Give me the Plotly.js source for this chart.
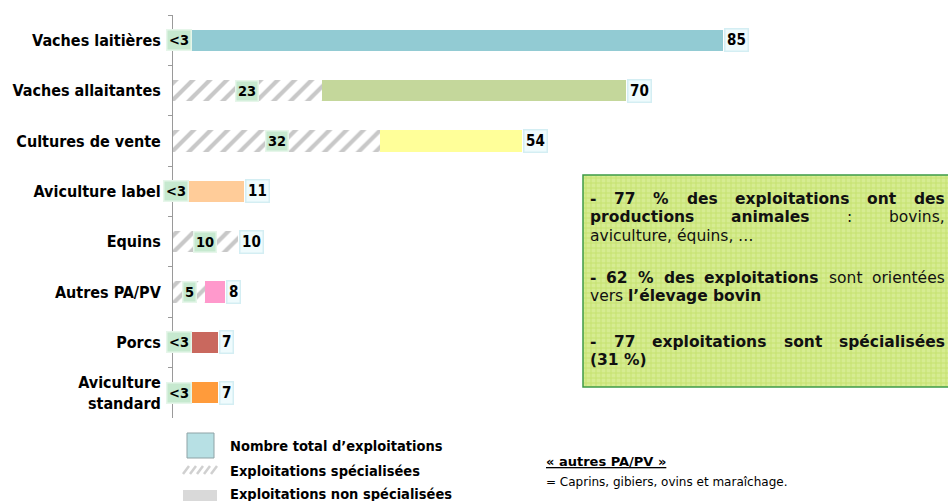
<!DOCTYPE html>
<html>
<head>
<meta charset="utf-8">
<script src="https://cdn.plot.ly/plotly-3.0.1.min.js"></script>
<style>html,body{margin:0;padding:0;background:#fff;}#chart{width:948px;height:501px;}</style>
</head>
<body>
<div id="chart"></div>
<script>
// ---- data ----
const categories = ['Vaches laitières','Vaches allaitantes','Cultures de vente','Aviculture label','Equins','Autres PA/PV','Porcs','Aviculture<br>standard'];
const totals = [85, 70, 54, 11, 10, 8, 7, 7];
const specialised = [2, 23, 32, 1, 10, 5, 2, 2];
const specLabels = ['&lt;3', '23', '32', '&lt;3', '10', '5', '&lt;3', '&lt;3'];
const totalLabels = ['85', '70', '54', '11', '10', '8', '7', '7'];
const barColors = ['#92cbd3', '#c4d79b', '#ffff99', '#ffcc99', '#ffffff', '#ff99cc', '#c9685e', '#ff9b3b'];

// ---- geometry ----
const W = 948, H = 501;
const M = {l: 173, r: 0, t: 15, b: 83};
const PW = W - M.l - M.r, PH = H - M.t - M.b;
const px2x = px => (px - M.l) / PW;
const py2y = py => (M.t + PH - py) / PH;
const FONT = 'DejaVu Sans';
const CFONT = 'DejaVu Sans Condensed, DejaVu Sans';

const remainder = totals.map((t, i) => t - specialised[i]);

const traces = [
  {
    type: 'bar', orientation: 'h', y: categories, x: specialised,
    marker: {color: '#ffffff', line: {width: 0},
      pattern: {shape: '/', fgcolor: '#c8c8c8', bgcolor: '#ffffff', size: 12, solidity: 0.35}},
    hoverinfo: 'skip', showlegend: false
  },
  {
    type: 'bar', orientation: 'h', y: categories, x: remainder,
    marker: {color: barColors, line: {width: 0}},
    hoverinfo: 'skip', showlegend: false
  }
];

const annotations = [];
categories.forEach((c, i) => {
  annotations.push({
    x: specialised[i] / 2, y: c, xref: 'x', yref: 'y', text: specLabels[i], showarrow: false,
    font: {family: CFONT, size: 14.5, color: '#000', weight: 'bold'},
    bgcolor: '#c6e9cf', bordercolor: '#e6f6ea', borderwidth: 1.5, borderpad: 1.5
  });
  annotations.push({
    x: totals[i], y: c, xref: 'x', yref: 'y', xanchor: 'left', xshift: 1, text: totalLabels[i], showarrow: false,
    font: {family: CFONT, size: 15, color: '#000', weight: 'bold'},
    bgcolor: '#effbfd', bordercolor: '#d4eef3', borderwidth: 1.5, borderpad: 1.5
  });
});

// ---- text box ----
const boxLines = [
  {y: 199, justify: true, segs: [['- 77 % des exploitations ont des', true]]},
  {y: 217, justify: true, segs: [['productions animales', true], [': bovins,', false]]},
  {y: 236, justify: false, segs: [['aviculture, équins, …', false]]},
  {y: 278, justify: true, segs: [['- 62 % des exploitations', true], ['sont orientées', false]]},
  {y: 296, justify: false, segs: [['vers', false], ['l’élevage bovin', true]]},
  {y: 342, justify: true, segs: [['- 77 exploitations sont spécialisées', true]]},
  {y: 360, justify: false, segs: [['(31 %)', true]]}
];
const BOX_X0 = 590, BOX_X1 = 945, BOX_FS = 15.5;
const cvs = document.createElement('canvas').getContext('2d');
function measure(t, b) { cvs.font = (b ? 'bold ' : '') + BOX_FS + 'px "' + FONT + '"'; return cvs.measureText(t).width; }
boxLines.forEach(line => {
  const words = [];
  line.segs.forEach(([t, b]) => t.split(' ').forEach(w => words.push({t: w, b: b, w: measure(w, b)})));
  const sum = words.reduce((a, w) => a + w.w, 0);
  const gap = line.justify && words.length > 1 ? (BOX_X1 - BOX_X0 - sum) / (words.length - 1) : measure(' ', false);
  let x = BOX_X0;
  words.forEach(w => {
    annotations.push({
      xref: 'paper', yref: 'paper', x: px2x(x), y: py2y(line.y), xanchor: 'left', yanchor: 'middle',
      text: w.t, showarrow: false, borderpad: 0, borderwidth: 0,
      font: {family: FONT, size: BOX_FS, color: '#111', weight: w.b ? 'bold' : 'normal'}
    });
    x += w.w + gap;
  });
});

// ---- legend texts ----
const legendTexts = [
  {x: 229, y: 446, t: 'Nombre total d’exploitations', bold: true, size: 14.5, f: CFONT},
  {x: 229, y: 471, t: 'Exploitations spécialisées', bold: true, size: 14.5, f: CFONT},
  {x: 229, y: 494, t: 'Exploitations non spécialisées', bold: true, size: 14.5, f: CFONT},
  {x: 545, y: 461, t: '<span style="text-decoration:underline">« autres PA/PV »</span>', bold: true, size: 13, f: FONT},
  {x: 545, y: 482, t: '= Caprins, gibiers, ovins et maraîchage.', bold: false, size: 12, f: FONT}
];
legendTexts.forEach(l => annotations.push({
  xref: 'paper', yref: 'paper', x: px2x(l.x), y: py2y(l.y), xanchor: 'left', yanchor: 'middle',
  text: l.t, showarrow: false, borderpad: 0,
  font: {family: l.f, size: l.size, color: '#000', weight: l.bold ? 'bold' : 'normal'}
}));

// ---- shapes ----
const shapes = [];
const rectPx = (x0, y0, x1, y1, fill, line, lw) => ({
  type: 'rect', xref: 'paper', yref: 'paper', x0: px2x(x0), x1: px2x(x1), y0: py2y(y1), y1: py2y(y0),
  fillcolor: fill, line: {color: line || fill, width: lw || 0}, layer: 'below'
});
// green info box
shapes.push(rectPx(583, 175, 952, 387, '#d6ec92', '#3c9a45', 1.5));
for (let gx = 586; gx < 948; gx += 5) {
  shapes.push({type: 'line', xref: 'paper', yref: 'paper', x0: px2x(gx), x1: px2x(gx), y0: py2y(386), y1: py2y(176), line: {color: '#c6e270', width: 1}, layer: 'below'});
}
for (let gy = 178; gy < 386; gy += 5) {
  shapes.push({type: 'line', xref: 'paper', yref: 'paper', x0: px2x(584), x1: px2x(948), y0: py2y(gy), y1: py2y(gy), line: {color: '#c6e270', width: 1}, layer: 'below'});
}
// legend icons
shapes.push(rectPx(187, 433, 214, 458, '#b7e0e4', '#8fa3a6', 1));
for (let i = 0; i < 5; i++) {
  const x0 = 183 + i * 7;
  shapes.push({type: 'line', xref: 'paper', yref: 'paper', x0: px2x(x0), x1: px2x(Math.min(x0 + 6, 217)), y0: py2y(474), y1: py2y(466), line: {color: '#d0d0d0', width: 2.5}});
}
shapes.push(rectPx(183, 490, 217, 501, '#d9d9d9'));

const layout = {
  width: W, height: H, margin: M,
  paper_bgcolor: '#ffffff', plot_bgcolor: '#ffffff',
  barmode: 'stack', bargap: 0.58, showlegend: false,
  xaxis: {range: [0, PW / 6.47], visible: false, fixedrange: true},
  yaxis: {type: 'category', autorange: 'reversed', showline: true, linecolor: '#9a9a9a', linewidth: 1,
    ticks: 'outside', tickson: 'boundaries', ticklen: 4, tickcolor: '#9a9a9a', ticklabelstandoff: 8,
    showgrid: false, zeroline: false, fixedrange: true,
    tickfont: {family: CFONT, size: 16, color: '#000', weight: 'bold'}},
  annotations: annotations, shapes: shapes
};

Plotly.newPlot('chart', traces, layout, {displayModeBar: false, staticPlot: true});
</script>
</body>
</html>
